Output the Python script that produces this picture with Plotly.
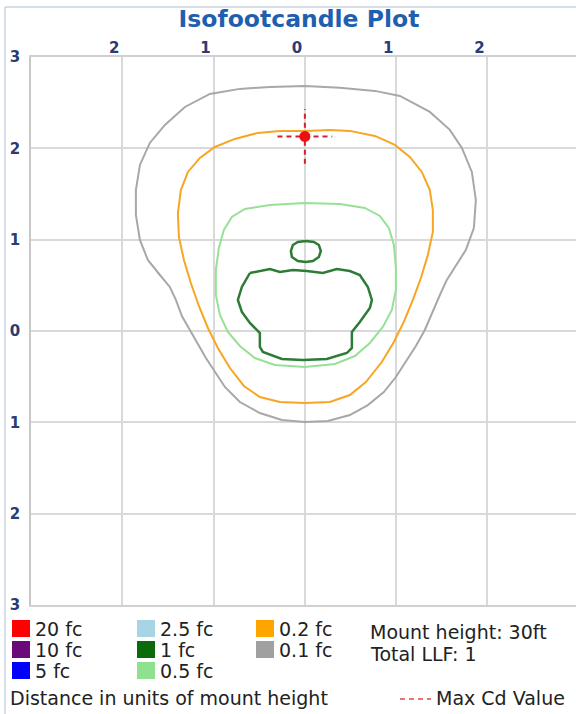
import plotly.graph_objects as go

# ---------------- data (units of mount height) ----------------
gray_x = [0.0, 0.383, 0.767, 1.041, 1.369, 1.588, 1.720, 1.829, 1.873, 1.851, 1.763, 1.643, 1.555, 1.479,
          1.402, 1.314, 1.216, 1.106, 0.997, 0.865, 0.690, 0.493, 0.252, 0.0, -0.252, -0.493, -0.712,
          -0.876, -0.986, -1.084, -1.172, -1.260, -1.347, -1.413, -1.479, -1.588, -1.720, -1.807, -1.851,
          -1.851, -1.807, -1.698, -1.533, -1.314, -1.041, -0.712, -0.383, 0.0]
gray_y = [2.683, 2.662, 2.629, 2.574, 2.399, 2.202, 2.004, 1.742, 1.435, 1.128, 0.887, 0.690, 0.559, 0.394,
          0.208, 0.011, -0.164, -0.340, -0.504, -0.668, -0.811, -0.920, -0.986, -0.997, -0.975, -0.898, -0.778,
          -0.613, -0.449, -0.296, -0.142, 0.011, 0.164, 0.340, 0.482, 0.613, 0.778, 0.997, 1.271,
          1.544, 1.818, 2.059, 2.256, 2.453, 2.596, 2.651, 2.672, 2.683]

orange_x = [0.0, 0.274, 0.493, 0.767, 0.986, 1.150, 1.281, 1.369, 1.402, 1.402, 1.347, 1.271, 1.183, 1.084,
            0.975, 0.843, 0.668, 0.493, 0.274, 0.0, -0.274, -0.493, -0.668, -0.821, -0.953, -1.062, -1.161,
            -1.249, -1.325, -1.380, -1.391, -1.358, -1.281, -1.150, -0.986, -0.767, -0.515, -0.274, 0.0]
orange_y = [2.191, 2.202, 2.191, 2.136, 2.037, 1.906, 1.742, 1.544, 1.325, 1.084, 0.832, 0.580, 0.340, 0.099,
            -0.120, -0.340, -0.559, -0.701, -0.778, -0.789, -0.778, -0.723, -0.602, -0.405, -0.186, 0.033, 0.274,
            0.526, 0.778, 1.030, 1.292, 1.544, 1.742, 1.895, 2.015, 2.103, 2.169, 2.191, 2.191]

lgreen_x = [0.0, 0.383, 0.657, 0.821, 0.920, 0.975, 0.997, 0.997, 0.953, 0.854, 0.712, 0.548, 0.329, 0.0,
            -0.329, -0.548, -0.712, -0.843, -0.931, -0.975, -0.975, -0.942, -0.887, -0.800, -0.657, -0.383, 0.0]
lgreen_y = [1.402, 1.391, 1.347, 1.260, 1.128, 0.942, 0.690, 0.449, 0.230, 0.044, -0.131, -0.274, -0.361, -0.394,
            -0.372, -0.296, -0.164, -0.011, 0.175, 0.394, 0.668, 0.909, 1.106, 1.249, 1.336, 1.380, 1.402]

dgreen_x = [-0.602, -0.383, -0.274, -0.131, 0.022, 0.197, 0.350, 0.493, 0.602, 0.690, 0.734, 0.712, 0.602,
            0.515, 0.515, 0.460, 0.241, -0.022, -0.252, -0.460, -0.493, -0.493, -0.602, -0.690, -0.734, -0.690, -0.602]
dgreen_y = [0.635, 0.679, 0.646, 0.668, 0.657, 0.635, 0.679, 0.657, 0.613, 0.482, 0.340, 0.252, 0.099,
            -0.011, -0.186, -0.241, -0.307, -0.318, -0.307, -0.230, -0.175, -0.022, 0.088, 0.208, 0.340, 0.482, 0.635]

oval_x = [0.011, 0.099, 0.153, 0.175, 0.153, 0.088, 0.011, -0.077, -0.142, -0.153, -0.131, -0.077, 0.011]
oval_y = [0.986, 0.975, 0.942, 0.876, 0.810, 0.767, 0.756, 0.767, 0.810, 0.876, 0.942, 0.975, 0.986]

max_cd_x = 0.0
max_cd_y = 2.13
cross_arm = 0.3

x_tickvals = [-2, -1, 0, 1, 2]
x_ticktext = ["2", "1", "0", "1", "2"]
y_tickvals = [-3, -2, -1, 0, 1, 2, 3]
y_ticktext = ["3", "2", "1", "0", "1", "2", "3"]

levels = ["20 fc", "10 fc", "5 fc", "2.5 fc", "1 fc", "0.5 fc", "0.2 fc", "0.1 fc"]
level_colors = ["#ff0000", "#6a0a78", "#0000ff", "#a8d5e5", "#0b6b0b", "#8fe08f", "#ffa500", "#a0a0a0"]

info_lines = ["Mount height: 30ft", "Total LLF: 1"]
footer_text = "Distance in units of mount height"
max_cd_label = "Max Cd Value"

# ---------------- layout helpers ----------------
W, H = 576, 714
ML, MR, MT, MB = 31, 0, 57, 109
PW, PH = W - ML - MR, H - MT - MB


def px(xp):
    return (xp - ML) / PW


def py(yp):
    return (H - MB - yp) / PH


fig = go.Figure()

contours = [
    (gray_x, gray_y, "#a8a8a8", 2),
    (orange_x, orange_y, "#f6a623", 2),
    (lgreen_x, lgreen_y, "#97e197", 2),
    (dgreen_x, dgreen_y, "#2c7c36", 2.5),
    (oval_x, oval_y, "#2c7c36", 2.5),
]
for cx, cy, col, w in contours:
    fig.add_trace(go.Scatter(x=cx, y=cy, mode="lines", line=dict(color=col, width=w),
                             showlegend=False, hoverinfo="skip"))

fig.add_trace(go.Scatter(x=[max_cd_x - cross_arm, max_cd_x + cross_arm], y=[max_cd_y, max_cd_y],
                         mode="lines", line=dict(color="#d42030", width=2, dash="5px,4px"),
                         showlegend=False, hoverinfo="skip"))
fig.add_trace(go.Scatter(x=[max_cd_x, max_cd_x], y=[max_cd_y - cross_arm, max_cd_y + cross_arm],
                         mode="lines", line=dict(color="#d42030", width=2, dash="5px,4px"),
                         showlegend=False, hoverinfo="skip"))
fig.add_trace(go.Scatter(x=[max_cd_x], y=[max_cd_y], mode="markers",
                         marker=dict(color="#ee1010", size=11),
                         showlegend=False, hoverinfo="skip"))

shapes = []
annotations = []

text_font = dict(family="DejaVu Sans", size=19, color="#222222")

# legend swatches & labels (3 rows per column)
col_sw_x = [12, 137, 256]
row_y = [629, 650, 671]
for i, (lab, col) in enumerate(zip(levels, level_colors)):
    c, r = divmod(i, 3)
    sx, sy = col_sw_x[c], row_y[r]
    shapes.append(dict(type="rect", xref="paper", yref="paper",
                       x0=px(sx), x1=px(sx + 18), y0=py(sy + 8), y1=py(sy - 9),
                       fillcolor=col, line=dict(width=0)))
    annotations.append(dict(text=lab, xref="paper", yref="paper", x=px(sx + 21), y=py(sy),
                            xanchor="left", yanchor="middle", showarrow=False, font=text_font))

for j, t in enumerate(info_lines):
    annotations.append(dict(text=t, xref="paper", yref="paper", x=px(368), y=py(632 + 22 * j),
                            xanchor="left", yanchor="middle", showarrow=False, font=text_font))

annotations.append(dict(text=footer_text, xref="paper", yref="paper", x=px(8), y=py(698),
                        xanchor="left", yanchor="middle", showarrow=False, font=text_font))
annotations.append(dict(text=max_cd_label, xref="paper", yref="paper", x=px(567), y=py(698),
                        xanchor="right", yanchor="middle", showarrow=False, font=text_font))
shapes.append(dict(type="line", xref="paper", yref="paper", x0=px(400), x1=px(431), y0=py(699), y1=py(699),
                   line=dict(color="#e04848", width=1.5, dash="5px,4px")))

# outer faint frame (left and top)
shapes.append(dict(type="line", xref="paper", yref="paper", x0=px(5), x1=px(5), y0=py(714), y1=py(7),
                   line=dict(color="#c9d3e0", width=1.5)))
shapes.append(dict(type="line", xref="paper", yref="paper", x0=px(5), x1=px(576), y0=py(7), y1=py(7),
                   line=dict(color="#c9d3e0", width=1.5)))

tick_font = dict(family="DejaVu Sans", size=15, color="#2b3b73", weight="bold")

fig.update_layout(
    width=W, height=H,
    margin=dict(l=ML, r=MR, t=MT, b=MB, pad=0),
    paper_bgcolor="white", plot_bgcolor="white",
    title=dict(text="Isofootcandle Plot", x=299 / W, xanchor="center", xref="container",
               y=1 - 19 / H, yanchor="middle", yref="container",
               font=dict(family="DejaVu Sans", size=23.5, color="#1f5fb0", weight="bold")),
    xaxis=dict(range=[-3, 3 - 3 * 0.01], side="top", tickvals=x_tickvals, ticktext=x_ticktext,
               showgrid=True, gridcolor="#d9d9d9", gridwidth=1.5, zeroline=False,
               showline=True, linecolor="#d0d0d0", linewidth=1.5, mirror=True,
               ticks="", tickfont=tick_font, ticklabelshift=-8, ticklabelstandoff=-4, fixedrange=True),
    yaxis=dict(range=[-3, 3], tickvals=y_tickvals, ticktext=y_ticktext,
               showgrid=True, gridcolor="#d9d9d9", gridwidth=1.5, zeroline=False,
               showline=True, linecolor="#c8c8c8", linewidth=1.5, mirror=False,
               ticks="", tickfont=tick_font, ticklabelstandoff=6, fixedrange=True),
    shapes=shapes,
    annotations=annotations,
    showlegend=False,
)

fig.write_html("out.html", config={"displayModeBar": False},
               post_script="document.body.style.margin='0';document.body.style.overflow='hidden';")
